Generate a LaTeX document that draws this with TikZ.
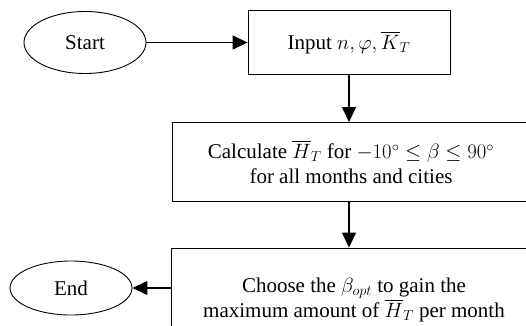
\documentclass[tikz,border=0pt]{standalone}
\usepackage{fontspec}
\setmainfont{Liberation Serif}
\usepackage{amsmath}
\usepackage{amssymb}
\usetikzlibrary{arrows.meta,shapes.geometric}

\begin{document}
\begin{tikzpicture}[
  x=1pt, y=-1pt,
  box/.style={draw, line width=0.9pt, align=center, inner sep=0pt,
              font=\fontsize{21}{25}\selectfont},
  terminal/.style={draw, ellipse, line width=0.9pt, inner sep=0pt,
                   minimum width=122pt, font=\fontsize{21}{25}\selectfont},
  arrow/.style={-{Triangle[length=15pt,width=14pt]}, line width=1.4pt}
]
  \clip (0,0) rectangle (526,325);

  % Start / Input
  \node[terminal, minimum height=62pt] (start) at (85, 42.5) {Start};
  \node[box, minimum width=202pt, minimum height=64pt] (input) at (349, 42.5)
    {Input $n, \varphi, \overline{K}_T$};

  % Calculation
  \node[box, minimum width=358pt, minimum height=79pt] (calc) at (351, 162)
    {Calculate $\overline{H}_T$ for $-10^\circ \leq \beta \leq 90^\circ$\\for all months and cities};

  % Choose / End
  \node[box, minimum width=366pt, minimum height=104pt] (choose) at (354, 300)
    {Choose the $\beta_{opt}$ to gain the\\maximum amount of $\overline{H}_T$ per month};
  \node[terminal, minimum height=54pt] (end) at (71, 288) {End};

  % Arrows
  \draw[arrow] (start) -- (input);
  \draw[arrow] (input.south) -- (input.south |- calc.north);
  \draw[arrow] (input.south |- calc.south) -- (input.south |- choose.north);
  \draw[arrow] (choose.west |- end) -- (end);

\end{tikzpicture}
\end{document}
